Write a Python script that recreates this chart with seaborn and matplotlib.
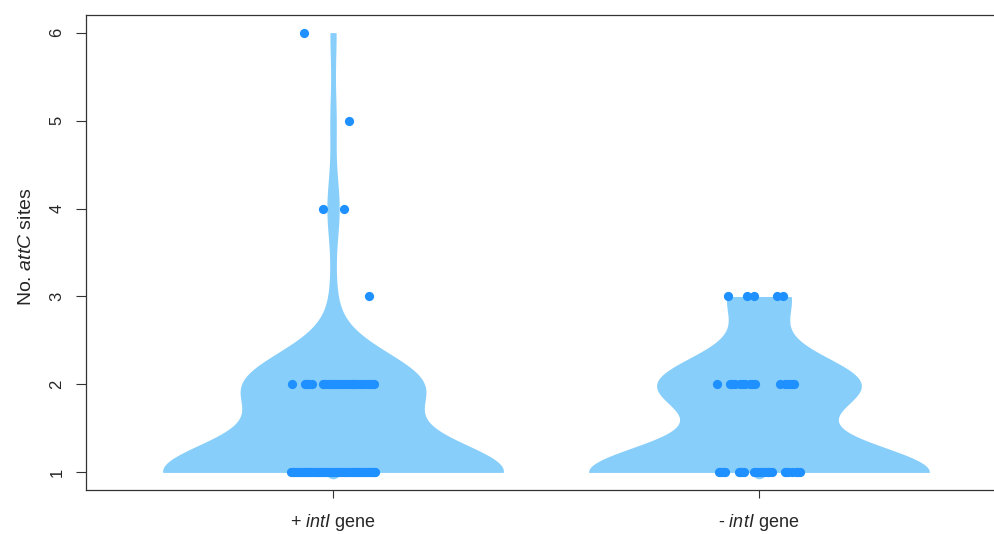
import numpy as np
import pandas as pd
import seaborn as sns
import matplotlib.pyplot as plt

# Number of attC sites per integron, split by presence of the intI gene
groups = ["+ intI gene", "- intI gene"]
group_pos = [1, 2]

plus_sites = [
    1, 1, 1, 1, 1, 1, 1, 1, 1, 1,
    1, 1, 1, 1, 1, 1, 1, 1, 1, 1,
    1, 1, 1, 1, 1, 1, 1, 1, 1, 1,
    1, 1, 1, 1, 1, 1, 1, 1, 1, 1,
    1, 1, 1, 1, 1, 1, 1, 1, 1, 1,
    1, 1, 1, 1, 1, 1,
    2, 2, 2, 2, 2, 2, 2, 2, 2, 2,
    2, 2, 2, 2, 2, 2, 2, 2, 2, 2,
    2, 2, 2, 2, 2, 2, 2, 2, 2,
    3, 4, 4, 5, 6,
]
# horizontal jitter applied to each point of the strip chart
plus_jitter = [
    -0.098, -0.094, -0.091, -0.087, -0.083, -0.080, -0.076, -0.072, -0.069, -0.065,
    -0.062, -0.058, -0.054, -0.051, -0.047, -0.043, -0.040, -0.036, -0.033, -0.029,
    -0.025, -0.022, -0.018, -0.014, -0.011, -0.007, -0.004, 0.000, 0.004, 0.007,
    0.011, 0.015, 0.018, 0.022, 0.025, 0.029, 0.033, 0.036, 0.040, 0.044,
    0.047, 0.051, 0.054, 0.058, 0.062, 0.065, 0.069, 0.073, 0.076, 0.080,
    0.083, 0.087, 0.091, 0.094, 0.097, 0.099,
    -0.097, -0.066, -0.061, -0.056, -0.049, -0.023, -0.018, -0.012, -0.006, 0.000,
    0.005, 0.010, 0.016, 0.022, 0.028, 0.034, 0.040, 0.046, 0.052, 0.057,
    0.063, 0.069, 0.075, 0.081, 0.087, 0.092, 0.096, -0.064, 0.044,
    0.085, -0.023, 0.026, 0.038, -0.068,
]

minus_sites = [
    1, 1, 1, 1, 1, 1, 1, 1, 1, 1,
    1, 1, 1, 1, 1, 1, 1, 1, 1, 1,
    1, 1, 1, 1, 1, 1, 1,
    2, 2, 2, 2, 2, 2, 2, 2, 2, 2,
    2, 2, 2, 2, 2, 2,
    3, 3, 3, 3, 3,
]
minus_jitter = [
    -0.093, -0.086, -0.079, -0.046, -0.041, -0.035, -0.011, -0.005, 0.002, 0.009,
    0.016, 0.023, 0.031, 0.060, 0.068, 0.077, 0.087, 0.097, -0.092, -0.082,
    -0.045, -0.038, -0.007, 0.007, 0.021, 0.063, 0.092,
    -0.099, -0.068, -0.056, -0.045, -0.033, -0.021, -0.009, 0.049, 0.061, 0.073,
    0.083, -0.063, -0.040, -0.016, 0.066, 0.078,
    -0.073, -0.028, -0.012, 0.042, 0.056,
]

# kernel bandwidth factor for each violin
bw_factors = [0.424, 0.48]

violin_color = "#87CEFA"
point_color = "#1E90FF"

sns.set_style("white")
plt.rcParams["font.family"] = ["Liberation Sans", "DejaVu Sans"]
plt.rcParams["mathtext.fontset"] = "custom"
plt.rcParams["mathtext.rm"] = "Liberation Sans"
plt.rcParams["mathtext.it"] = "Liberation Sans:italic"

frames = []
for pos, sites, jit in zip(group_pos, [plus_sites, minus_sites], [plus_jitter, minus_jitter]):
    frames.append(pd.DataFrame({"group": pos, "sites": sites, "jitter": jit}))
df = pd.concat(frames, ignore_index=True)
df["xj"] = df["group"] + df["jitter"]

fig = plt.figure(figsize=(9.94, 5.34), dpi=100)
ax = fig.add_axes([86 / 994, 44 / 534, 920 / 994, 475 / 534])

for pos, bw in zip(group_pos, bw_factors):
    sub = df[df["group"] == pos]
    sns.violinplot(
        data=sub, x="group", y="sites", native_scale=True, ax=ax,
        color=violin_color, saturation=1, linewidth=0, inner=None,
        cut=0, bw_method=bw, width=0.8, density_norm="width", gridsize=400,
    )

medians = pd.DataFrame({
    "group": group_pos,
    "median": [np.median(plus_sites), np.median(minus_sites)],
})
sns.scatterplot(data=medians, x="group", y="median", ax=ax, color=violin_color,
                s=95, linewidth=0, zorder=3)
sns.scatterplot(data=df, x="xj", y="sites", ax=ax, color=point_color,
                s=44, linewidth=0, zorder=4)

ax.set_xlim(0.42, 2.58)
ax.set_ylim(0.8, 6.2)
ax.set_xticks(group_pos)
ax.set_xticklabels([r"+ $\mathit{intI}$ gene", r"- $\mathit{intI}$ gene"], fontsize=13)
ax.set_yticks([1, 2, 3, 4, 5, 6])
ax.set_yticklabels(["1", "2", "3", "4", "5", "6"], fontsize=12, rotation=90,
                   va="center")
ax.tick_params(axis="y", length=7, width=0.8, color="#333333", pad=8.5, left=True)
ax.tick_params(axis="x", length=5.5, width=0.8, color="#333333", pad=10.5, bottom=True)
ax.set_xlabel("")
ax.set_ylabel(r"No. $\mathit{attC}$ sites", fontsize=14)
ax.yaxis.set_label_coords(-0.055, 0.511)
for side in ["left", "bottom", "top", "right"]:
    ax.spines[side].set_visible(True)
    ax.spines[side].set_color("#333333")
    ax.spines[side].set_linewidth(0.9)

fig.savefig("out.png", dpi=100)
